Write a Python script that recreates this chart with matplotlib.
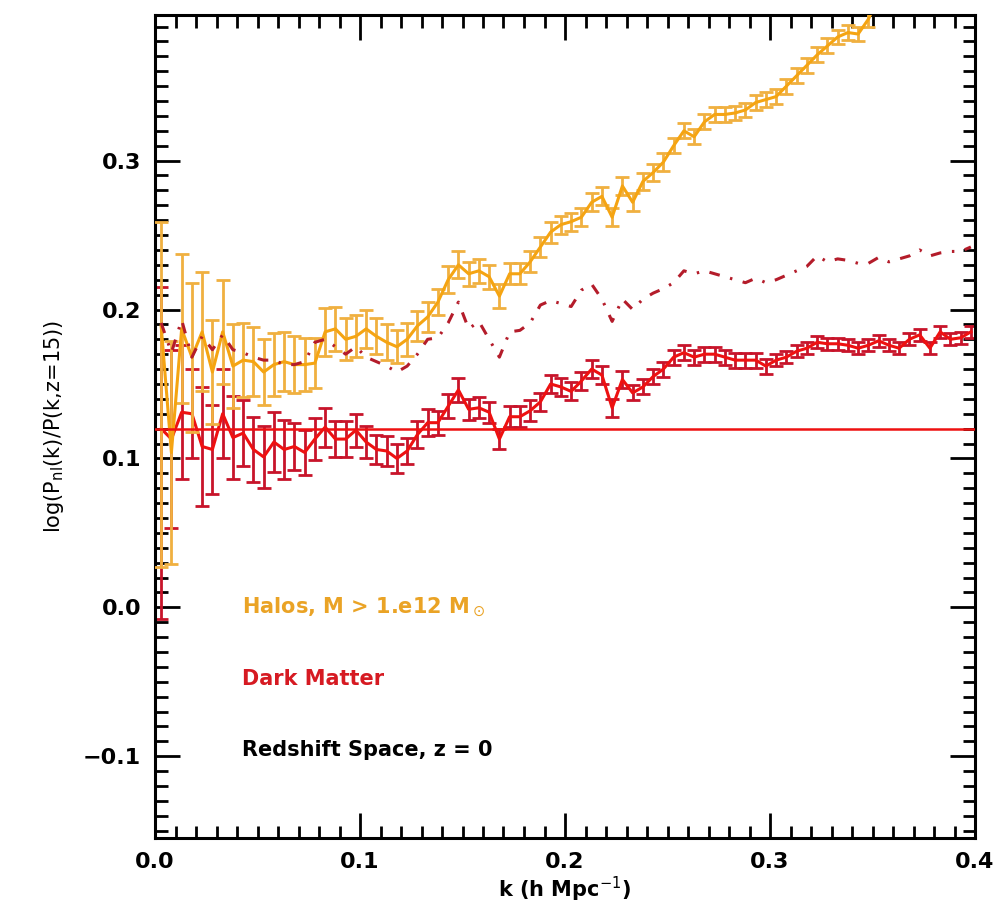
import matplotlib
matplotlib.use("Agg")
import matplotlib.pyplot as plt
from matplotlib.ticker import MultipleLocator

# k grid (h/Mpc)
k = [0.003, 0.008, 0.013, 0.018, 0.023, 0.028, 0.033, 0.038, 0.043, 0.048,
     0.053, 0.058, 0.063, 0.068, 0.073, 0.078, 0.083, 0.088, 0.093, 0.098,
     0.103, 0.108, 0.113, 0.118, 0.123, 0.128, 0.133, 0.138, 0.143, 0.148,
     0.153, 0.158, 0.163, 0.168, 0.173, 0.178, 0.183, 0.188, 0.193, 0.198,
     0.203, 0.208, 0.213, 0.218, 0.223, 0.228, 0.233, 0.238, 0.243, 0.248,
     0.253, 0.258, 0.263, 0.268, 0.273, 0.278, 0.283, 0.288, 0.293, 0.298,
     0.303, 0.308, 0.313, 0.318, 0.323, 0.328, 0.333, 0.338, 0.343, 0.348,
     0.353, 0.358, 0.363, 0.368, 0.373, 0.378, 0.383, 0.388, 0.393, 0.398]

# halos M > 1e12 (goes off the top after k~0.35)
halo = [0.189, 0.104, 0.187, 0.168, 0.185, 0.158, 0.185, 0.162, 0.166, 0.165,
        0.158, 0.163, 0.165, 0.163, 0.163, 0.164, 0.185, 0.187, 0.180, 0.182,
        0.187, 0.182, 0.178, 0.175, 0.180, 0.189, 0.195, 0.205, 0.220, 0.230,
        0.224, 0.226, 0.222, 0.209, 0.224, 0.224, 0.232, 0.242, 0.252, 0.257,
        0.259, 0.262, 0.272, 0.276, 0.262, 0.283, 0.272, 0.286, 0.292, 0.299,
        0.310, 0.320, 0.316, 0.326, 0.331, 0.331, 0.332, 0.334, 0.339, 0.341,
        0.343, 0.350, 0.357, 0.364, 0.371, 0.377, 0.383, 0.386, 0.385, 0.395,
        0.410]
halo_err = [0.070, 0.075, 0.050, 0.050, 0.040, 0.035, 0.035, 0.028, 0.025, 0.023,
            0.022, 0.021, 0.020, 0.019, 0.018, 0.017, 0.016, 0.015, 0.014, 0.014,
            0.013, 0.012, 0.012, 0.011, 0.011, 0.010, 0.010, 0.009, 0.009, 0.009,
            0.008, 0.008, 0.008, 0.008, 0.007, 0.007, 0.007, 0.007, 0.007, 0.006,
            0.006, 0.006, 0.006, 0.006, 0.006, 0.006, 0.006, 0.006, 0.006, 0.006,
            0.005, 0.005, 0.005, 0.005, 0.005, 0.005, 0.005, 0.005, 0.005, 0.005,
            0.005, 0.005, 0.005, 0.005, 0.005, 0.005, 0.005, 0.005, 0.005, 0.005,
            0.005]
halo_err_lo = [0.162] + halo_err[1:]

# dark matter, with errors
dm = [0.120, 0.113, 0.131, 0.130, 0.108, 0.106, 0.130, 0.114, 0.117, 0.106,
      0.101, 0.111, 0.106, 0.108, 0.104, 0.113, 0.121, 0.113, 0.113, 0.119,
      0.111, 0.106, 0.105, 0.100, 0.105, 0.116, 0.124, 0.124, 0.135, 0.146,
      0.133, 0.134, 0.131, 0.113, 0.128, 0.128, 0.132, 0.138, 0.150, 0.148,
      0.145, 0.152, 0.160, 0.156, 0.134, 0.153, 0.144, 0.148, 0.155, 0.160,
      0.168, 0.171, 0.168, 0.170, 0.170, 0.168, 0.166, 0.166, 0.166, 0.162,
      0.166, 0.168, 0.172, 0.174, 0.178, 0.177, 0.177, 0.176, 0.174, 0.176,
      0.179, 0.176, 0.174, 0.180, 0.183, 0.174, 0.185, 0.180, 0.181, 0.185]
dm_err = [0.095, 0.060, 0.045, 0.030, 0.040, 0.030, 0.030, 0.028, 0.022, 0.022,
          0.021, 0.020, 0.020, 0.016, 0.015, 0.014, 0.013, 0.012, 0.012, 0.011,
          0.011, 0.010, 0.010, 0.010, 0.009, 0.009, 0.009, 0.008, 0.008, 0.008,
          0.007, 0.007, 0.007, 0.007, 0.007, 0.007, 0.007, 0.006, 0.006, 0.006,
          0.006, 0.006, 0.006, 0.006, 0.006, 0.006, 0.005, 0.005, 0.005, 0.005,
          0.005, 0.005, 0.005, 0.005, 0.005, 0.005, 0.005, 0.005, 0.005, 0.005,
          0.004, 0.004, 0.004, 0.004, 0.004, 0.004, 0.004, 0.004, 0.004, 0.004,
          0.004, 0.004, 0.004, 0.004, 0.004, 0.004, 0.004, 0.004, 0.004, 0.004]
dm_err_lo = [0.128] + dm_err[1:]

# dash-dot curve (no errors)
dashdot = [0.191, 0.171, 0.193, 0.168, 0.182, 0.173, 0.183, 0.173, 0.171, 0.168,
           0.166, 0.166, 0.163, 0.163, 0.165, 0.178, 0.180, 0.175, 0.170, 0.175,
           0.168, 0.165, 0.162, 0.158, 0.162, 0.170, 0.180, 0.181, 0.191, 0.205,
           0.187, 0.192, 0.180, 0.168, 0.185, 0.186, 0.191, 0.203, 0.206, 0.204,
           0.202, 0.213, 0.217, 0.207, 0.192, 0.207, 0.200, 0.207, 0.211, 0.214,
           0.218, 0.226, 0.224, 0.226, 0.224, 0.222, 0.220, 0.218, 0.221, 0.218,
           0.220, 0.223, 0.226, 0.229, 0.236, 0.232, 0.234, 0.233, 0.231, 0.231,
           0.235, 0.232, 0.234, 0.236, 0.240, 0.236, 0.238, 0.239, 0.239, 0.242]

linear_level = 0.12

c_orange = '#f5a412'
c_orange_err = '#f0b040'
c_red = '#ee1111'
c_red_err = '#c8142a'
c_dash = '#b41c2a'

fig = plt.figure(figsize=(10, 9.17), dpi=100)
ax = fig.add_axes([0.155, 0.086, 0.82, 0.898])

ax.errorbar(k, dm, yerr=[dm_err_lo, dm_err], color=c_red, ecolor=c_red_err,
            lw=2.2, elinewidth=2.0, capsize=5, capthick=2.0, zorder=2)
kh = k[:len(halo)]
ax.errorbar(kh, halo, yerr=[halo_err_lo, halo_err], color=c_orange, ecolor=c_orange_err,
            lw=2.2, elinewidth=2.0, capsize=5, capthick=2.0, zorder=3)
ax.plot(k, dashdot, color=c_dash, lw=2.2, dashes=(3.5, 3.5, 0.8, 3.5), zorder=4)
ax.axhline(linear_level, color=c_red, lw=1.8, zorder=5)

ax.set_xlim(0.0, 0.4)
ax.set_ylim(-0.155, 0.398)
ax.xaxis.set_major_locator(MultipleLocator(0.1))
ax.xaxis.set_minor_locator(MultipleLocator(0.01))
ax.yaxis.set_major_locator(MultipleLocator(0.1))
ax.yaxis.set_minor_locator(MultipleLocator(0.01))
ax.set_xticks([0.0, 0.1, 0.2, 0.3, 0.4])
ax.set_xticklabels(['0.0', '0.1', '0.2', '0.3', '0.4'])
ax.set_yticks([-0.1, 0.0, 0.1, 0.2, 0.3])
ax.set_yticklabels(['\u22120.1', '0.0', '0.1', '0.2', '0.3'])
ax.tick_params(which='both', direction='in', top=True, right=True, width=2, colors='black')
ax.tick_params(which='major', length=18, labelsize=16, pad=10)
ax.tick_params(which='minor', length=9)
for lab in ax.get_xticklabels() + ax.get_yticklabels():
    lab.set_fontweight('bold')
for sp in ax.spines.values():
    sp.set_linewidth(2.2)

ax.set_xlabel(r'k (h Mpc$^{-1}$)', fontsize=15, fontweight='bold', labelpad=2)
ax.set_ylabel(r'log(P$_{\rm nl}$(k)/P(k,z=15))', fontsize=15, labelpad=12)

ax.text(0.0425, 0.0, 'Halos, M > 1.e12 M$_\\odot$', color='#eaa325', fontsize=15,
        fontweight='bold', va='center')
ax.text(0.0425, -0.048, 'Dark Matter', color='#d61a22', fontsize=15,
        fontweight='bold', va='center')
ax.text(0.0425, -0.096, 'Redshift Space, z = 0', color='black', fontsize=15,
        fontweight='bold', va='center')

fig.savefig('out.png', dpi=100)
